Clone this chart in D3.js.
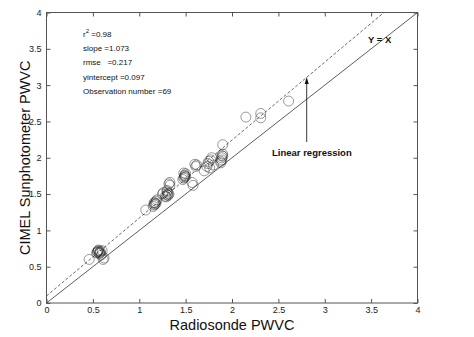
<!DOCTYPE html>
<html><head><meta charset="utf-8">
<script src="https://cdn.jsdelivr.net/npm/d3@7"></script>
<style>
html,body{margin:0;padding:0;background:#fff;}
svg{display:block;font-family:"Liberation Sans",Arial,sans-serif;}
</style></head>
<body><svg id="c" width="474" height="337"></svg>
<script>
const radiosonde = [0.46,0.54,0.55,0.56,0.57,0.58,0.59,0.60,0.61,0.62,0.55,0.57,
  1.07,1.15,1.16,1.17,1.18,1.19,1.17,1.25,1.28,1.30,1.31,1.32,1.29,1.32,1.33,1.31,
  1.47,1.48,1.49,1.50,1.50,1.48,1.57,1.58,1.62,1.61,1.70,1.73,1.74,1.75,1.78,1.80,1.76,
  1.88,1.89,1.90,1.90,1.89,1.88,1.90,2.15,2.31,2.31,2.61,
  0.56,1.16,1.30,1.49,1.89,1.77,1.30,1.18,0.58,1.49,1.60,1.33,1.26];
const sunphotometer = [0.60,0.69,0.70,0.72,0.68,0.71,0.66,0.72,0.60,0.62,0.71,0.70,
  1.28,1.33,1.35,1.36,1.40,1.42,1.38,1.50,1.47,1.53,1.48,1.50,1.46,1.64,1.66,1.51,
  1.70,1.72,1.76,1.78,1.74,1.79,1.66,1.62,1.90,1.88,1.82,1.88,1.92,1.95,2.00,1.90,1.86,
  1.93,1.97,2.02,2.05,2.00,1.95,2.18,2.56,2.61,2.55,2.78,
  0.73,1.38,1.55,1.75,2.03,1.97,1.49,1.37,0.69,1.73,1.91,1.62,1.52];
const xTicks = [0,0.5,1,1.5,2,2.5,3,3.5,4];
const yTicks = [0,0.5,1,1.5,2,2.5,3,3.5,4];
const tickLabels = ["0","0.5","1","1.5","2","2.5","3","3.5","4"];
const stats = ["slope =1.073","rmse   =0.217","yintercept =0.097","Observation number =69"];
const slope = 1.073, intercept = 0.097;

const svg = d3.select("#c");
const L=46.5, R=417.5, T=12.5, B=303;
const x = d3.scaleLinear().domain([0,4]).range([L,R]);
const y = d3.scaleLinear().domain([0,4]).range([B,T]);
const axCol = "#555";

svg.append("rect").attr("x",L).attr("y",T).attr("width",R-L).attr("height",B-T)
  .attr("fill","none").attr("stroke",axCol).attr("stroke-width",1);

const fmt = (d,i)=>tickLabels[i];
const gx = svg.append("g").attr("transform",`translate(0,${B})`)
  .call(d3.axisBottom(x).tickValues(xTicks).tickFormat(fmt).tickSizeInner(-4).tickSizeOuter(0).tickPadding(4));
const gy = svg.append("g").attr("transform",`translate(${L},0)`)
  .call(d3.axisLeft(y).tickValues(yTicks).tickFormat(fmt).tickSizeInner(-4).tickSizeOuter(0).tickPadding(5));
const gt = svg.append("g").attr("transform",`translate(0,${T})`)
  .call(d3.axisTop(x).tickValues(xTicks).tickFormat("").tickSizeInner(-4).tickSizeOuter(0));
const gr = svg.append("g").attr("transform",`translate(${R},0)`)
  .call(d3.axisRight(y).tickValues(yTicks).tickFormat("").tickSizeInner(-4).tickSizeOuter(0));
[gx,gy,gt,gr].forEach(g=>{
  g.select(".domain").remove();
  g.selectAll(".tick line").attr("stroke",axCol);
  g.selectAll("text").attr("font-size",9).attr("fill","#222")
    .attr("font-family","'Liberation Sans',Arial,sans-serif");
});

svg.append("line").attr("x1",x(0)).attr("y1",y(0)).attr("x2",x(4)).attr("y2",y(4))
  .attr("stroke","#333").attr("stroke-width",0.8);
const xEnd = (4-intercept)/slope;
svg.append("line").attr("x1",x(0)).attr("y1",y(intercept)).attr("x2",x(xEnd)).attr("y2",y(4))
  .attr("stroke","#444").attr("stroke-width",0.8).attr("stroke-dasharray","3,2");

svg.append("g").selectAll("circle").data(radiosonde).join("circle")
  .attr("cx",(d)=>x(d)).attr("cy",(d,i)=>y(sunphotometer[i])).attr("r",5)
  .attr("fill","none").attr("stroke","#222").attr("stroke-opacity",0.45).attr("stroke-width",1);

const st = svg.append("text").attr("x",83).attr("y",37).attr("font-size",8).attr("fill","#111");
st.append("tspan").text("r");
st.append("tspan").attr("dy",-4).attr("font-size",6).text("2");
st.append("tspan").attr("dy",4).text(" =0.98");
stats.forEach((s,i)=>{
  svg.append("text").attr("x",83).attr("y",51+i*14.3).attr("font-size",8).attr("fill","#111")
    .attr("xml:space","preserve").style("white-space","pre").text(s);
});

svg.append("text").attr("x",368).attr("y",43).attr("font-size",9.5).attr("font-weight","bold")
  .attr("fill","#111").text("Y = X");
svg.append("line").attr("x1",306.7).attr("y1",142).attr("x2",306.7).attr("y2",80)
  .attr("stroke","#222").attr("stroke-width",0.9);
svg.append("path").attr("d","M304.7,84 L306.7,77 L308.7,84 Z").attr("fill","#111");
svg.append("text").attr("x",272).attr("y",156).attr("font-size",9.5).attr("font-weight","bold")
  .attr("fill","#111").text("Linear regression");

svg.append("text").attr("x",(L+R)/2).attr("y",330).attr("text-anchor","middle")
  .attr("font-size",14.5).attr("fill","#111").text("Radiosonde PWVC");
svg.append("text").attr("transform",`translate(30,${(T+B)/2}) rotate(-90)`).attr("text-anchor","middle")
  .attr("font-size",14.5).attr("fill","#111").text("CIMEL Sunphotometer PWVC");
</script></body></html>
